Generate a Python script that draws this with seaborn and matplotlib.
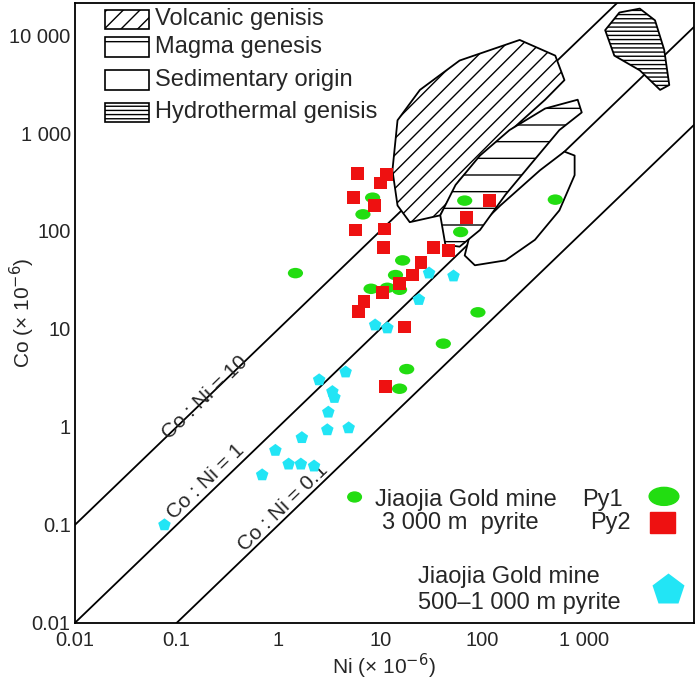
import numpy as np
import pandas as pd
import seaborn as sns
import matplotlib.pyplot as plt
from matplotlib.patches import Polygon, Rectangle, Ellipse
from matplotlib.path import Path
from matplotlib.transforms import Affine2D
from matplotlib.ticker import FixedLocator, FixedFormatter

py1_logni = [0.925, 0.83, 0.167, 1.83, 1.79, 2.72, 1.22, 1.15, 0.91, 1.07, 1.19, 1.96, 1.62, 1.26, 1.19]
py1_logco = [2.34, 2.17, 1.57, 2.31, 1.99, 2.32, 1.70, 1.55, 1.41, 1.42, 1.40, 1.17, 0.85, 0.59, 0.39]
py2_logni = [0.78, 1.06, 1.00, 0.74, 0.94, 0.76, 1.04, 1.03, 2.07, 1.85, 1.52, 1.67, 1.40, 1.32, 1.19, 1.02, 0.84, 0.79, 1.24, 1.05]
py2_logco = [2.59, 2.58, 2.49, 2.34, 2.26, 2.01, 2.02, 1.83, 2.31, 2.14, 1.83, 1.80, 1.68, 1.55, 1.46, 1.37, 1.28, 1.18, 1.02, 0.41]
sh_logni = [1.48, 1.72, 1.38, 0.95, 1.07, 0.66, 0.40, 0.53, 0.55, 0.49, 0.48, 0.69, -1.12, -0.16, -0.03, 0.10, 0.22, 0.35, 0.23]
sh_logco = [1.57, 1.54, 1.30, 1.04, 1.01, 0.56, 0.48, 0.36, 0.30, 0.15, -0.03, -0.01, -1.00, -0.49, -0.24, -0.38, -0.38, -0.40, -0.11]

# field outlines, log10(Ni), log10(Co)
volcanic = [(1.17, 3.13), (1.39, 3.44), (1.78, 3.74), (2.37, 3.95), (2.72, 3.79), (2.81, 3.54), (2.62, 3.34),
            (2.18, 2.93), (1.78, 2.52), (1.59, 2.16), (1.29, 2.09), (1.17, 2.26), (1.12, 2.62)]
magma = [(1.64, 1.86), (1.59, 2.16), (1.74, 2.47), (1.98, 2.77), (2.27, 3.03), (2.62, 3.25), (2.94, 3.34),
         (2.98, 3.21), (2.76, 3.03), (2.47, 2.67), (2.23, 2.37), (1.98, 2.01), (1.78, 1.84)]
sediment = [(1.83, 1.75), (1.88, 1.96), (2.18, 2.26), (2.57, 2.62), (2.81, 2.81), (2.91, 2.77), (2.91, 2.57),
            (2.76, 2.21), (2.52, 1.91), (2.23, 1.70), (1.93, 1.65)]
hydro = [(3.21, 4.05), (3.35, 4.23), (3.55, 4.27), (3.70, 4.15), (3.79, 3.85), (3.84, 3.49), (3.75, 3.44),
         (3.55, 3.64), (3.30, 3.79)]

ratios = [10, 1, 0.1]
ticks = [0.01, 0.1, 1, 10, 100, 1000, 10000]
tick_labels = ['0.01', '0.1', '1', '10', '100', '1 000', '10 000']

sns.set_style('white')
plt.rcParams['font.family'] = ['Liberation Sans', 'DejaVu Sans']
plt.rcParams['hatch.linewidth'] = 1.0

fig = plt.figure(figsize=(7, 6.8), dpi=100)
ax = fig.add_axes([0.107, 0.084, 0.884, 0.912])
xmin, xmax = 0.01, 10 ** 4.08
ymin, ymax = 0.01, 10 ** 4.33
ax.set_xscale('log')
ax.set_yscale('log')
ax.set_xlim(xmin, xmax)
ax.set_ylim(ymin, ymax)

xs = np.array([xmin, xmax])
for r in ratios:
    ax.plot(xs, r * xs, color='black', lw=1.3, zorder=1)

def field(pts, hatch):
    p = [(10 ** a, 10 ** b) for a, b in pts]
    ax.add_patch(Polygon(p, closed=True, facecolor='white', edgecolor='black', lw=1.3,
                         hatch=hatch, joinstyle='round', zorder=2))

field(volcanic, '//')
field(sediment, None)
field(magma, '-')
field(hydro, '----')

ell = Path.unit_circle().transformed(Affine2D().scale(1.45, 1.0))
d1 = pd.DataFrame({'ni': 10 ** np.array(py1_logni), 'co': 10 ** np.array(py1_logco)})
d2 = pd.DataFrame({'ni': 10 ** np.array(py2_logni), 'co': 10 ** np.array(py2_logco)})
d3 = pd.DataFrame({'ni': 10 ** np.array(sh_logni), 'co': 10 ** np.array(sh_logco)})
sns.scatterplot(data=d1, x='ni', y='co', marker=ell, s=120, color='#22dd11', edgecolor='none', ax=ax, zorder=4)
sns.scatterplot(data=d2, x='ni', y='co', marker='s', s=85, color='#ee1111', edgecolor='none', ax=ax, zorder=4)
sns.scatterplot(data=d3, x='ni', y='co', marker='p', s=90, color='#22e5f5', edgecolor='none', ax=ax, zorder=4)

ax.text(0.19, 2.0, 'Co : Ni = 10', rotation=44, fontsize=15, ha='center', va='center')
ax.text(0.195, 0.275, 'Co : Ni = 1', rotation=44, fontsize=15, ha='center', va='center')
ax.text(1.1, 0.15, 'Co : Ni = 0.1', rotation=44, fontsize=15, ha='center', va='center')

ax.xaxis.set_major_locator(FixedLocator(ticks[:-1]))
ax.xaxis.set_major_formatter(FixedFormatter(tick_labels[:-1]))
ax.yaxis.set_major_locator(FixedLocator(ticks))
ax.yaxis.set_major_formatter(FixedFormatter(tick_labels))
ax.minorticks_off()
ax.tick_params(direction='in', length=6, width=1.2, labelsize=14.5)
ax.tick_params(axis='x', pad=6)
ax.tick_params(axis='y', pad=3)
for s in ax.spines.values():
    s.set_linewidth(1.3)
    s.set_color('black')
ax.set_xlabel('Ni (× 10$^{-6}$)', fontsize=15, labelpad=1)
ax.set_ylabel('Co (× 10$^{-6}$)', fontsize=15, labelpad=0)
ax.yaxis.set_label_coords(-0.062, 0.5)

# legend of fields
T = ax.transAxes
names = ['Volcanic genisis', 'Magma genesis', 'Sedimentary origin', 'Hydrothermal genisis']
hatches = ['//', '-', None, '----']
rows = [0.973, 0.929, 0.876, 0.823]
for n, h, yc in zip(names, hatches, rows):
    ax.add_patch(Rectangle((0.048, yc - 0.016), 0.072, 0.032, transform=T, facecolor='white',
                           edgecolor='black', lw=1.2, hatch=h))
    ax.text(0.13, yc, n, transform=T, fontsize=17, va='center')

# legend of samples
ax.add_patch(Ellipse((0.452, 0.203), 0.022, 0.016, transform=T, color='#22dd11'))
ax.text(0.485, 0.198, 'Jiaojia Gold mine', transform=T, fontsize=17, va='center')
ax.text(0.82, 0.198, 'Py1', transform=T, fontsize=17, va='center')
ax.add_patch(Ellipse((0.952, 0.204), 0.048, 0.029, transform=T, color='#22dd11'))
ax.text(0.496, 0.161, '3 000 m  pyrite', transform=T, fontsize=17, va='center')
ax.text(0.832, 0.161, 'Py2', transform=T, fontsize=17, va='center')
ax.add_patch(Rectangle((0.929, 0.145), 0.04, 0.034, transform=T, color='#ee1111'))
ax.text(0.554, 0.074, 'Jiaojia Gold mine', transform=T, fontsize=17, va='center')
ax.text(0.554, 0.032, '500–1 000 m pyrite', transform=T, fontsize=17, va='center')
ax.plot([0.958], [0.053], marker='p', markersize=24, color='#22e5f5', transform=T, mec='none')

fig.savefig('out.png', dpi=100)
